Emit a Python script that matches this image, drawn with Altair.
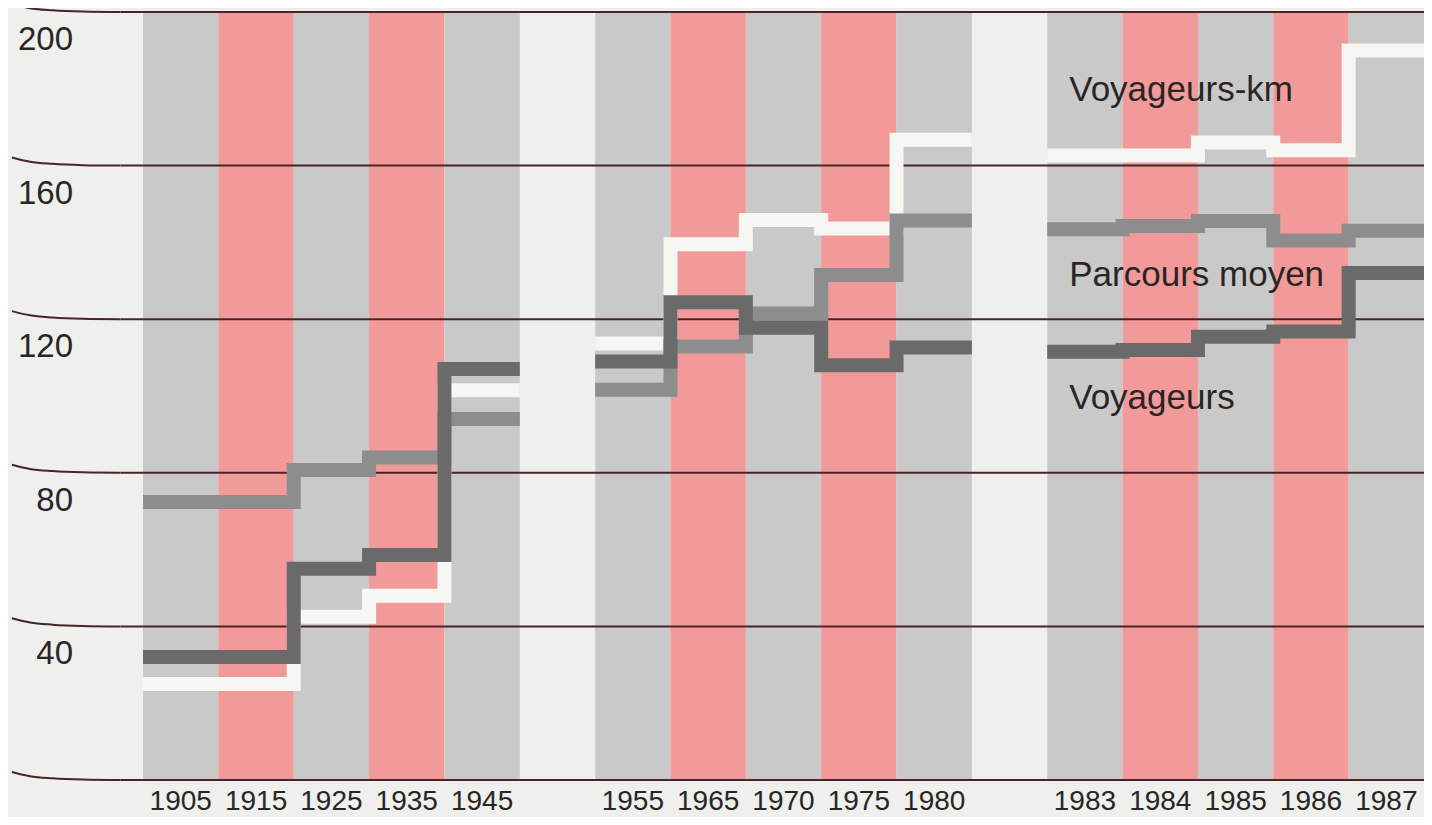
import altair as alt
import pandas as pd

# ---- data ----
years = ["1905", "1915", "1925", "1935", "1945",
         "1955", "1965", "1970", "1975", "1980",
         "1983", "1984", "1985", "1986", "1987"]
slots = [0, 1, 2, 3, 4, 6, 7, 8, 9, 10, 12, 13, 14, 15, 16]
groups = [0, 0, 0, 0, 0, 1, 1, 1, 1, 1, 2, 2, 2, 2, 2]
column_kind = ["gris", "rose", "gris", "rose", "gris"] * 3

voyageurs_km = [25, 25, 42.5, 48, 101.5, 113.7, 139.5, 145.8, 143.6, 166.7,
                162.6, 162.6, 166, 164, 190]
parcours_moyen = [72.4, 72.4, 80.7, 84, 94, 101.6, 112.9, 121.5, 131.5, 145.7,
                  143.4, 144.3, 145.6, 140.5, 143]
voyageurs = [32, 32, 55, 58.6, 107, 109, 124.4, 117.8, 108, 112.6,
             111.5, 112, 115.4, 116.8, 132]

grid_values = [0, 40, 80, 120, 160, 200]
y_label_values = [200, 160, 120, 80, 40]
y_label_texts = ["200", "160", "120", "80", "40"]

series_names = ["Voyageurs-km", "Parcours moyen", "Voyageurs"]
series_colors = ["#f6f6f3", "#8d8d8d", "#6a6a6a"]
series_label_values = [176.8, 128.6, 96.6]
series_label_column = "1983"

# ---- layout / style ----
W, H = 1416, 809
X_DOM = [-1.792, 17]
Y_DOM = [-9.64, 201.04]
FONT = "Liberation Sans"
TEXT_COLOR = "#2a2525"
GRID_COLOR = "#4a2228"
# decorative upward curl at the left end of each rule (x in slot units, lift in value units)
CURL_X = [-1.74, -1.5, -1.2, -0.8, -0.3]
CURL_LIFT = [2.1, 1.0, 0.45, 0.12, 0.0]

xs = alt.Scale(domain=X_DOM, nice=False, zero=False)
ys = alt.Scale(domain=Y_DOM, nice=False, zero=False)

cols = pd.DataFrame({
    "year": years,
    "x0": slots,
    "x1": [s + 1 for s in slots],
    "xc": [s + 0.5 for s in slots],
    "kind": column_kind,
    "low": [0] * len(years),
    "high": [200] * len(years),
})

columns = alt.Chart(cols).mark_rect(clip=True).encode(
    x=alt.X("x0:Q", scale=xs, axis=None),
    x2="x1:Q",
    y=alt.Y("low:Q", scale=ys, axis=None),
    y2="high:Q",
    color=alt.Color("kind:N", scale=alt.Scale(domain=["gris", "rose"],
                                              range=["#cac9c9", "#f29a9a"]),
                    legend=None),
)

grid_df = pd.DataFrame({"v": grid_values, "x0": [CURL_X[-1]] * len(grid_values),
                        "x1": [X_DOM[1]] * len(grid_values)})
grid = alt.Chart(grid_df).mark_rule(color=GRID_COLOR, strokeWidth=2, clip=True).encode(
    y=alt.Y("v:Q", scale=ys, axis=None),
    x=alt.X("x0:Q", scale=xs, axis=None),
    x2="x1:Q",
)

curl_rows = []
for g in grid_values:
    for k, (cx, cl) in enumerate(zip(CURL_X, CURL_LIFT)):
        curl_rows.append({"g": g, "x": cx, "v": g + cl, "o": k})
curls = alt.Chart(pd.DataFrame(curl_rows)).mark_line(
    color=GRID_COLOR, strokeWidth=2, interpolate="monotone", clip=True
).encode(
    x=alt.X("x:Q", scale=xs, axis=None),
    y=alt.Y("v:Q", scale=ys, axis=None),
    detail="g:N",
    order="o:Q",
)


def series_layer(name, values, color):
    rows = []
    for i, (s, g, v) in enumerate(zip(slots, groups, values)):
        rows.append({"seg": f"{name}-{g}", "x": s, "v": v, "o": 2 * i})
        rows.append({"seg": f"{name}-{g}", "x": s + 1, "v": v, "o": 2 * i + 1})
    df = pd.DataFrame(rows)
    return alt.Chart(df).mark_line(
        color=color, strokeWidth=14, strokeCap="butt", strokeJoin="miter",
        clip=True
    ).encode(
        x=alt.X("x:Q", scale=xs, axis=None),
        y=alt.Y("v:Q", scale=ys, axis=None),
        detail="seg:N",
        order="o:Q",
    )


lines = [series_layer(n, v, c) for n, v, c in
         zip(series_names, [voyageurs_km, parcours_moyen, voyageurs], series_colors)]

x_labels = alt.Chart(cols).mark_text(
    font=FONT, fontSize=28, color=TEXT_COLOR, baseline="alphabetic", align="center"
).encode(
    x=alt.X("xc:Q", scale=xs, axis=None),
    y=alt.value(802),
    text="year:N",
)

y_labels = alt.Chart(pd.DataFrame({"v": y_label_values, "t": y_label_texts})).mark_text(
    font=FONT, fontSize=33, color=TEXT_COLOR, baseline="middle", align="right", dy=28
).encode(
    y=alt.Y("v:Q", scale=ys, axis=None),
    x=alt.value(65),
    text="t:N",
)

lab_slot = slots[years.index(series_label_column)]
series_labels = alt.Chart(pd.DataFrame({
    "t": series_names,
    "v": series_label_values,
    "x": [lab_slot] * 3,
})).mark_text(
    font=FONT, fontSize=35, color=TEXT_COLOR, align="left", baseline="alphabetic", dx=22
).encode(
    x=alt.X("x:Q", scale=xs, axis=None),
    y=alt.Y("v:Q", scale=ys, axis=None),
    text="t:N",
)

chart = alt.layer(
    columns, grid, curls, *lines, x_labels, y_labels, series_labels
).properties(
    width=W, height=H, padding=0, background="#efefed",
    autosize=alt.AutoSizeParams(type="none")
).configure_view(stroke=None)

chart.save("out.html", embed_options={"renderer": "svg", "actions": False})
